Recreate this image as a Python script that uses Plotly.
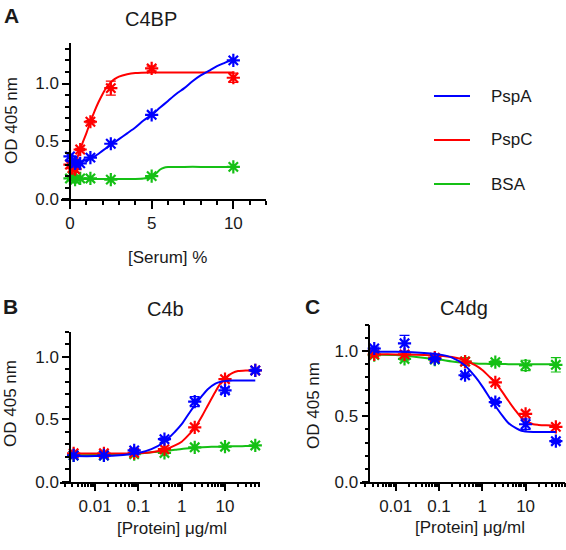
import plotly.graph_objects as go

# ---------------- data ----------------
series_names = ["PspA", "PspC", "BSA"]
colors = {"PspA": "#0000ff", "PspC": "#ff0000", "BSA": "#15c015"}

# Panel A: C4BP, x = serum %
A_x = [0, 0.156, 0.3125, 0.625, 1.25, 2.5, 5, 10]
A_pspa = [0.37, 0.33, 0.31, 0.31, 0.36, 0.48, 0.73, 1.20]
A_pspc = [0.30, 0.27, 0.26, 0.43, 0.67, 0.96, 1.13, 1.05]
A_bsa = [0.18, 0.20, 0.17, 0.18, 0.18, 0.17, 0.20, 0.28]
A_pspc_err = [0, 0, 0, 0.01, 0.01, 0.06, 0.02, 0.04]

A_pspa_fit_x = [0, 0.5, 1, 1.5, 2, 2.5, 3, 3.5, 4, 4.5, 5, 5.5, 6, 6.5, 7, 7.5, 8, 8.5, 9, 9.5, 10]
A_pspa_fit_y = [0.31, 0.32, 0.34, 0.37, 0.42, 0.47, 0.52, 0.57, 0.62, 0.68, 0.73, 0.79, 0.85,
                0.91, 0.96, 1.02, 1.07, 1.11, 1.15, 1.18, 1.21]
A_pspc_fit_x = [0, 0.25, 0.375, 0.5, 0.625, 0.75, 1, 1.25, 1.5, 1.75, 2, 2.25, 2.5, 2.75, 3, 3.5, 4, 5, 6, 8, 10]
A_pspc_fit_y = [0.27, 0.29, 0.32, 0.38, 0.43, 0.48, 0.57, 0.67, 0.76, 0.84, 0.91, 0.97, 1.01,
                1.04, 1.06, 1.08, 1.09, 1.095, 1.095, 1.095, 1.095]
A_bsa_fit_x = [0, 1, 2, 3, 4, 4.5, 5, 5.25, 5.5, 5.75, 6, 7, 8, 10]
A_bsa_fit_y = [0.175, 0.175, 0.175, 0.175, 0.176, 0.18, 0.195, 0.22, 0.255, 0.272, 0.278, 0.28, 0.28, 0.28]

# Panel B: C4b, x = protein ug/ml
B_x = [0.0032, 0.016, 0.08, 0.4, 2, 10, 50]
B_pspa = [0.21, 0.21, 0.25, 0.34, 0.64, 0.73, 0.89]
B_pspc = [0.227, 0.227, 0.23, 0.26, 0.435, 0.82, 0.89]
B_bsa = [0.21, 0.21, 0.22, 0.23, 0.275, 0.28, 0.29]
B_pspa_err = [0, 0, 0.01, 0.01, 0.04, 0.02, 0.01]

B_fit_x = [0.0032, 0.01, 0.03, 0.1, 0.2, 0.4, 0.7, 1, 1.5, 2, 3, 4, 6, 8, 10, 15, 20, 30, 50]
B_pspa_fit_y = [0.205, 0.205, 0.21, 0.23, 0.26, 0.32, 0.40, 0.46, 0.55, 0.61, 0.69, 0.74,
                0.785, 0.80, 0.805, 0.81, 0.81, 0.81, 0.81]
B_pspc_fit_y = [0.225, 0.225, 0.225, 0.228, 0.235, 0.255, 0.29, 0.32, 0.38, 0.43, 0.53, 0.61,
                0.72, 0.79, 0.83, 0.87, 0.885, 0.89, 0.89]
B_bsa_fit_y = [0.212, 0.213, 0.215, 0.225, 0.235, 0.245, 0.255, 0.262, 0.267, 0.272, 0.276,
               0.278, 0.28, 0.281, 0.282, 0.283, 0.284, 0.285, 0.285]

# Panel C: C4dg
C_x = [0.0032, 0.016, 0.08, 0.4, 2, 10, 50]
C_pspa = [1.02, 1.06, 0.94, 0.815, 0.61, 0.44, 0.31]
C_pspc = [0.975, 0.975, 0.95, 0.92, 0.76, 0.52, 0.42]
C_bsa = [0.97, 0.94, 0.935, 0.92, 0.915, 0.89, 0.895]
C_pspa_err = [0.01, 0.06, 0.01, 0.01, 0.01, 0.04, 0.01]
C_bsa_err = [0.01, 0.01, 0.01, 0.03, 0.01, 0.04, 0.055]

C_fit_x = [0.0032, 0.01, 0.03, 0.1, 0.2, 0.4, 0.7, 1, 1.5, 2, 3, 4, 6, 8, 10, 15, 20, 30, 50]
C_pspa_fit_y = [0.995, 0.995, 0.99, 0.975, 0.95, 0.89, 0.80, 0.73, 0.64, 0.58, 0.50, 0.45,
                0.41, 0.39, 0.385, 0.381, 0.38, 0.38, 0.38]
C_pspc_fit_y = [0.975, 0.975, 0.972, 0.965, 0.955, 0.93, 0.89, 0.855, 0.80, 0.76, 0.68, 0.62,
                0.54, 0.49, 0.465, 0.44, 0.435, 0.432, 0.43]
C_bsa_fit_y = [0.975, 0.97, 0.955, 0.935, 0.92, 0.91, 0.905, 0.903, 0.902, 0.902, 0.901, 0.90,
               0.90, 0.90, 0.90, 0.90, 0.90, 0.90, 0.90]

# ---------------- figure ----------------
W, H = 566, 550
FONT = "Arial, 'Liberation Sans', sans-serif"
TXT = "#1a1a1a"

fig = go.Figure()


def add_series(xa, ya, x, y, fx, fy, color, err=None, smoothing=0.8):
    fig.add_trace(go.Scatter(x=fx, y=fy, mode="lines", xaxis=xa, yaxis=ya,
                             line=dict(color=color, width=2, shape="spline", smoothing=smoothing),
                             showlegend=False, hoverinfo="skip", cliponaxis=False))
    kw = {}
    if err is not None:
        kw["error_y"] = dict(type="data", array=err, visible=True, color=color, thickness=1.2, width=5)
    fig.add_trace(go.Scatter(x=x, y=y, mode="markers", xaxis=xa, yaxis=ya, cliponaxis=False,
                             marker=dict(symbol="asterisk", size=11, color=color,
                                         line=dict(color=color, width=2.2)),
                             showlegend=False, **kw))


c_b, c_r, c_g = colors["PspA"], colors["PspC"], colors["BSA"]

# Panel A
add_series("x", "y", A_x, A_bsa, A_bsa_fit_x, A_bsa_fit_y, c_g, smoothing=0.6)
add_series("x", "y", A_x, A_pspc, A_pspc_fit_x, A_pspc_fit_y, c_r, err=A_pspc_err)
add_series("x", "y", A_x, A_pspa, A_pspa_fit_x, A_pspa_fit_y, c_b)
# Panel B
add_series("x2", "y2", B_x, B_bsa, B_fit_x, B_bsa_fit_y, c_g)
add_series("x2", "y2", B_x, B_pspc, B_fit_x, B_pspc_fit_y, c_r)
add_series("x2", "y2", B_x, B_pspa, B_fit_x, B_pspa_fit_y, c_b, err=B_pspa_err)
# Panel C
add_series("x3", "y3", C_x, C_bsa, C_fit_x, C_bsa_fit_y, c_g, err=C_bsa_err)
add_series("x3", "y3", C_x, C_pspc, C_fit_x, C_pspc_fit_y, c_r)
add_series("x3", "y3", C_x, C_pspa, C_fit_x, C_pspa_fit_y, c_b, err=C_pspa_err)


def px_x(p):
    return p / W


def px_y(p):
    return (H - p) / H


TICKFONT = dict(family=FONT, size=17, color=TXT)
axis_common = dict(showline=True, linecolor="black", linewidth=1.5, ticks="outside",
                   tickcolor="black", tickwidth=1.5, showgrid=False, zeroline=False,
                   automargin=False, tickfont=TICKFONT)

ytick = dict(tickvals=[0, 0.5, 1.0], ticktext=["0.0", "0.5", "1.0"], ticklen=7,
             minor=dict(dtick=0.1, tick0=0, ticklen=4, ticks="outside", tickcolor="black",
                        tickwidth=1.5, showgrid=False))

log_minor = []
for dec in [0.001, 0.01, 0.1, 1, 10]:
    for m in range(2, 10):
        log_minor.append(round(m * dec, 6))

xlog = dict(type="log", tickvals=[0.01, 0.1, 1, 10], ticktext=["0.01", "0.1", "1", "10"],
            ticklen=8)

B_xdom = [px_x(60), px_x(260)]
B_xrange = [-2.81, 1.808]
C_xdom = [px_x(360), px_x(565)]
C_xrange = [-2.824, 1.91]

fig.update_layout(
    width=W, height=H, margin=dict(l=0, r=0, t=0, b=0, autoexpand=False),
    paper_bgcolor="white", plot_bgcolor="white", showlegend=False,
    xaxis=dict(domain=[px_x(61), px_x(266)], range=[-0.55, 12], anchor="y",
               tickvals=[0, 5, 10], ticklen=8,
               minor=dict(dtick=1, tick0=0, ticklen=4, ticks="outside", tickcolor="black",
                          tickwidth=1.5, showgrid=False),
               **axis_common),
    yaxis=dict(domain=[px_y(199.3), px_y(43)], range=[0, 1.35], anchor="free",
               position=px_x(70), **ytick, **axis_common),
    xaxis2=dict(domain=B_xdom, range=B_xrange, anchor="y2", **xlog, **axis_common),
    yaxis2=dict(domain=[px_y(481.7), px_y(331.7)], range=[0, 1.2], anchor="free",
                position=px_x(70), **ytick, **axis_common),
    xaxis3=dict(domain=C_xdom, range=C_xrange, anchor="y3", **xlog, **axis_common),
    yaxis3=dict(domain=[px_y(481.7), px_y(325)], range=[0, 1.2], anchor="free",
                position=px_x(369.3), **ytick, **axis_common),
    # overlay axes carrying the short minor ticks of the log axes
    xaxis4=dict(domain=B_xdom, range=B_xrange, anchor="y2", overlaying="x2", type="log",
                tickvals=log_minor, ticktext=[""] * len(log_minor), ticks="outside",
                ticklen=4, tickwidth=1.5, tickcolor="black", showline=False,
                showgrid=False, zeroline=False, automargin=False, side="bottom"),
    xaxis5=dict(domain=C_xdom, range=C_xrange, anchor="y3", overlaying="x3", type="log",
                tickvals=log_minor, ticktext=[""] * len(log_minor), ticks="outside",
                ticklen=4, tickwidth=1.5, tickcolor="black", showline=False,
                showgrid=False, zeroline=False, automargin=False, side="bottom"),
)

# invisible traces so the overlay axes are drawn
fig.add_trace(go.Scatter(x=[0.1], y=[0.5], xaxis="x4", yaxis="y2", mode="markers",
                         marker=dict(opacity=0), showlegend=False, hoverinfo="skip"))
fig.add_trace(go.Scatter(x=[0.1], y=[0.5], xaxis="x5", yaxis="y3", mode="markers",
                         marker=dict(opacity=0), showlegend=False, hoverinfo="skip"))

annots = []


def text(x, y, s, size=17, angle=0, xanchor="center"):
    annots.append(dict(x=px_x(x), y=px_y(y), xref="paper", yref="paper", text=s,
                       showarrow=False, textangle=angle, xanchor=xanchor, yanchor="middle",
                       font=dict(family=FONT, size=size, color=TXT)))


# panel labels and titles
text(11, 16, "<b>A</b>", size=21)
text(151, 19, "C4BP", size=20)
text(10, 307, "<b>B</b>", size=21)
text(165, 309, "C4b", size=20)
text(312, 307, "<b>C</b>", size=21)
text(464, 308, "C4dg", size=20)

# axis titles
text(12, 121, "OD 405 nm", size=17, angle=-90)
text(10, 404, "OD 405 nm", size=17, angle=-90)
text(313, 406, "OD 405 nm", size=17, angle=-90)
text(167, 257, "[Serum] %", size=17)
text(172, 528, "[Protein] μg/ml", size=17)
text(470, 527, "[Protein] μg/ml", size=17)

# legend
shapes = []
for name, yy in [("PspA", 96), ("PspC", 140), ("BSA", 184)]:
    shapes.append(dict(type="line", xref="paper", yref="paper", x0=px_x(434), x1=px_x(470),
                       y0=px_y(yy), y1=px_y(yy), line=dict(color=colors[name], width=2)))
    text(489, yy, name, size=17, xanchor="left")

fig.update_layout(annotations=annots, shapes=shapes)
fig.write_html("out.html", config={"displayModeBar": False},
               post_script="document.body.style.margin='0';document.body.style.overflow='hidden';")
